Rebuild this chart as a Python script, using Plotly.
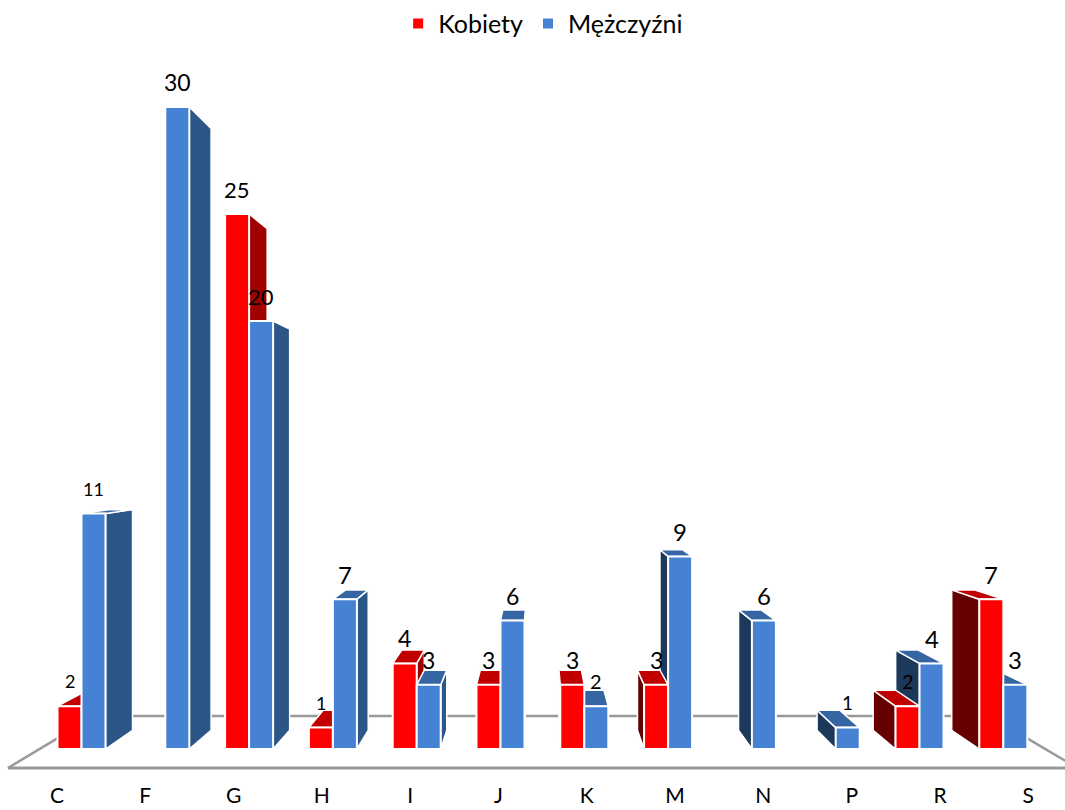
import plotly.graph_objects as go

categories = ["C", "F", "G", "H", "I", "J", "K", "M", "N", "P", "R", "S"]
kobiety = [2, 0, 25, 1, 4, 3, 3, 3, 0, 0, 2, 7]
mezczyzni = [11, 30, 20, 7, 3, 6, 2, 9, 6, 1, 4, 3]

# label font sizes per point (style only)
size_k = [18, 0, 22, 18, 23, 23, 23, 23, 0, 0, 20, 24]
size_m = [18, 23, 22, 24, 23, 23, 20, 24, 24, 19, 24, 24]

RED, BLUE = "#FF0000", "#4682D4"
RED_SIDE_R, RED_SIDE_L, RED_TOP = "#A00000", "#660000", "#C00000"
BLUE_SIDE_R, BLUE_SIDE_L, BLUE_TOP = "#2C5687", "#1C385A", "#3565A3"
FLOOR = "#999999"
FONT = "Lato"

PX_PER_CAT, PX_PER_VAL = 83.8, 21.4
X0_PX, Y0_PX, W, H, PLOT_B = 81.5, 749, 1065, 810, 29
BAR_W = 24 / PX_PER_CAT
VX, VY = (538 - X0_PX) / PX_PER_CAT, (Y0_PX - 450) / PX_PER_VAL
DEPTH = 0.0625


def proj(x, y, k=DEPTH):
    return x + k * (VX - x), y + k * (VY - y)


def poly(fig, pts, color):
    fig.add_trace(go.Scatter(
        x=[p[0] for p in pts] + [pts[0][0]], y=[p[1] for p in pts] + [pts[0][1]],
        mode="lines", fill="toself", fillcolor=color,
        line=dict(color="white", width=1.5), hoverinfo="skip", showlegend=False))


def faces(fig, x0, x1, v, side_r, side_l, top):
    if not v:
        return
    if x1 < VX:
        e, col = x1, side_r
    else:
        e, col = x0, side_l
    if x0 >= VX or x1 <= VX:
        poly(fig, [(e, 0), (e, v), proj(e, v), proj(e, 0)], col)
    if v < VY:
        poly(fig, [(x0, v), (x1, v), proj(x1, v), proj(x0, v)], top)


fig = go.Figure()

# floor
k_front, k_back = -0.0635, 0.11
left, right = -0.5, 11.5
fl = [proj(left, 0, k_front), proj(right, 0, k_front), proj(right, 0, k_back), proj(left, 0, k_back)]
fig.add_trace(go.Scatter(x=[fl[0][0], fl[1][0]], y=[fl[0][1], fl[1][1]], mode="lines",
                         line=dict(color=FLOOR, width=3), hoverinfo="skip", showlegend=False))
fig.add_trace(go.Scatter(x=[fl[0][0], fl[3][0], fl[2][0], fl[1][0]], y=[fl[0][1], fl[3][1], fl[2][1], fl[1][1]],
                         mode="lines", line=dict(color=FLOOR, width=2.5), hoverinfo="skip", showlegend=False))

idx = list(range(len(categories)))
for i in idx:
    red = (i - BAR_W, i, kobiety[i], RED_SIDE_R, RED_SIDE_L, RED_TOP)
    blue = (i, i + BAR_W, mezczyzni[i], BLUE_SIDE_R, BLUE_SIDE_L, BLUE_TOP)
    order = (red, blue) if i + BAR_W < VX else (blue, red)
    for spec in order:
        faces(fig, *spec)

fig.add_trace(go.Bar(x=idx, y=[v or None for v in kobiety], name="Kobiety", width=BAR_W, offset=-BAR_W,
                     marker=dict(color=RED, line=dict(color="white", width=2)),
                     xaxis="x2", yaxis="y2"))
fig.add_trace(go.Bar(x=idx, y=[v or None for v in mezczyzni], name="Mężczyźni", width=BAR_W, offset=0,
                     marker=dict(color=BLUE, line=dict(color="white", width=2)),
                     xaxis="x2", yaxis="y2"))

annotations = []
for vals, sizes, off in ((kobiety, size_k, -BAR_W / 2), (mezczyzni, size_m, BAR_W / 2)):
    for i, (v, s) in enumerate(zip(vals, sizes)):
        if v:
            annotations.append(dict(x=i + off, y=v, xref="x2", yref="y2", text=str(v), showarrow=False,
                                    yshift=25, xanchor="center", yanchor="middle",
                                    font=dict(family=FONT, size=s, color="black")))

label_scale = 88.3 / PX_PER_CAT
tick_pos = [(i - VX) * label_scale + VX for i in idx]
xr = [-X0_PX / PX_PER_CAT, (W - X0_PX) / PX_PER_CAT]
yr = [-(H - PLOT_B - Y0_PX) / PX_PER_VAL, Y0_PX / PX_PER_VAL]

fig.update_layout(
    width=W, height=H, autosize=False,
    margin=dict(l=0, r=0, t=0, b=PLOT_B, pad=0, autoexpand=False),
    paper_bgcolor="white", plot_bgcolor="white",
    barmode="overlay", annotations=annotations,
    font=dict(family=FONT, color="black", size=23),
    legend=dict(orientation="h", x=0.51, xanchor="center", y=0.999, yanchor="top",
                font=dict(family=FONT, size=25), traceorder="normal", bgcolor="rgba(0,0,0,0)"),
    xaxis=dict(range=xr, tickmode="array", tickvals=tick_pos, ticktext=categories, showgrid=False,
               zeroline=False, showline=False, ticks="", tickfont=dict(family=FONT, size=21), fixedrange=True),
    yaxis=dict(range=yr, visible=False, fixedrange=True),
    xaxis2=dict(range=xr, overlaying="x", visible=False, fixedrange=True),
    yaxis2=dict(range=yr, overlaying="y", visible=False, fixedrange=True),
)

fig.write_html("out.html", config={"displayModeBar": False},
               post_script="document.body.style.margin='0';")
